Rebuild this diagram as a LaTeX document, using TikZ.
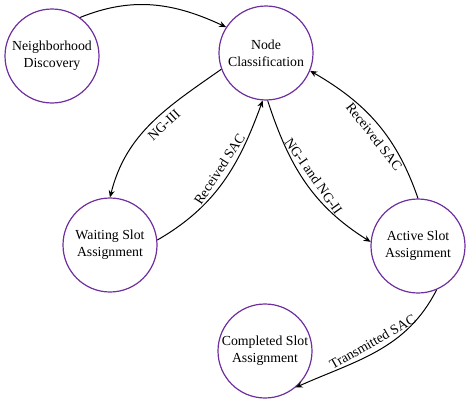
\documentclass[tikz,border=0pt]{standalone}
\usepackage{fontspec}
\setmainfont{Liberation Serif}
\usetikzlibrary{arrows.meta}
\definecolor{statepurple}{RGB}{112,48,160}
\tikzset{st/.style={circle, draw=statepurple, line width=1.2pt, minimum size=94pt, inner sep=0pt, align=center, font=\fontsize{13.8}{17}\selectfont}}
\tikzset{tr/.style={-{Stealth[length=7pt,width=6pt]}, line width=1pt}}
\tikzset{lb/.style={sloped, midway, inner sep=5pt, font=\fontsize{13.8}{17}\selectfont}}

\begin{document}
\begin{tikzpicture}[x=1pt,y=1pt]
\useasboundingbox (0,0) rectangle (466,-407);
\node[st] (nd) at (52,-56) {Neighborhood\\Discovery};
\node[st] (nc) at (266,-53) {Node\\Classification};
\node[st] (ws) at (110,-245) {Waiting Slot\\Assignment};
\node[st] (as) at (418,-246) {Active Slot\\Assignment};
\node[st] (cs) at (265,-351) {Completed Slot\\Assignment};

\draw[tr] (nd.54) to[out=22,in=155] (nc.147);
\draw[tr] (nc.200) to[out=215,in=76] node[lb,below,pos=0.45]{NG-III} (ws.90);
\draw[tr] (ws.6) to[out=30,in=250] node[lb,above,pos=0.55]{Received SAC} (nc.266);
\draw[tr] (nc.272) to[out=-72,in=148] node[lb,above]{NG-I and NG-II} (as.175);
\draw[tr] (as.90) to[out=109,in=-30] node[lb,below,pos=0.45]{Received SAC} (nc.-22);
\draw[tr] (as.293) to[out=243,in=24] node[lb,above]{Transmitted SAC} (cs.310);
\end{tikzpicture}
\end{document}
